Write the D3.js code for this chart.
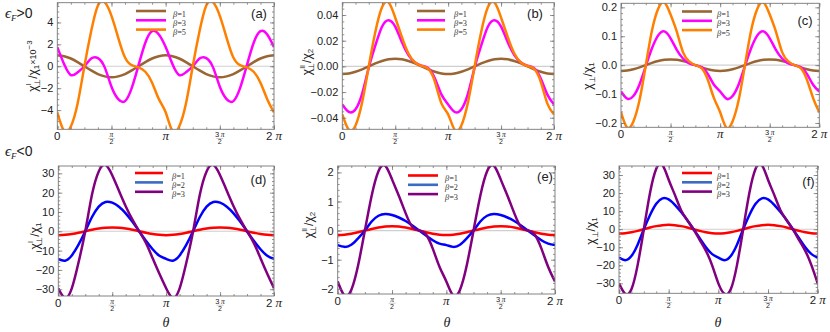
<!DOCTYPE html>
<html><head><meta charset="utf-8">
<script src="https://cdn.jsdelivr.net/npm/d3@7"></script>
<style>body{margin:0;background:#fff}svg{display:block}</style>
</head><body>
<svg id="c" width="830" height="332"></svg>
<script>
// ---------- data (theta in units of pi) ----------
const thetaOverPi = [0,0.0625,0.125,0.1875,0.25,0.3125,0.375,0.4375,0.5,0.5625,0.625,0.6875,0.75,0.8125,0.875,0.9375,1,
  1.0625,1.125,1.1875,1.25,1.3125,1.375,1.4375,1.5,1.5625,1.625,1.6875,1.75,1.8125,1.875,1.9375,2];
const xTicks = [0, 0.5, 1, 1.5, 2];
const xTickLabels = ['0', 'π/2', 'π', '3π/2', '2 π'];

// panel (a)  chi_perp^I / chi_1 x 10^-3, eps_F > 0
const aBeta1 = [1.0,0.92,0.71,0.38,0,-0.38,-0.71,-0.92,-1.0,-0.92,-0.71,-0.38,0,0.38,0.71,0.92,1.0,
  0.92,0.71,0.38,0,-0.38,-0.71,-0.92,-1.0,-0.92,-0.71,-0.38,0,0.38,0.71,0.92,1.0];
const aBeta3 = [1.75,0.2,-0.8,-0.55,0,0.7,0.74,-0.1,-1.87,-3.0,-3.18,-1.97,0.1,2.15,3.2,2.9,1.75,
  0.2,-0.8,-0.55,0,0.7,0.74,-0.1,-1.87,-3.0,-3.18,-1.97,0.1,2.15,3.2,2.9,1.75];
const aBeta5 = [-4.2,-5.9,-5.5,-3.4,0,3.2,5.55,5.85,4.6,2.6,0.8,0.1,-0.1,-0.5,-1.5,-3.0,-4.2,
  -5.9,-5.5,-3.4,0,3.2,5.55,5.85,4.6,2.6,0.8,0.1,-0.1,-0.5,-1.5,-3.0,-4.2];
const aYTicks = [-4,-2,0,2,4];
const aYTickLabels = ['−4','−2','0','2','4'];

// panel (b)  chi_perp^II / chi_2, eps_F > 0
const bBeta1 = [-0.006,-0.0055,-0.0042,-0.0023,0,0.0023,0.0042,0.0055,0.006,0.0055,0.0042,0.0023,0,-0.0023,-0.0042,-0.0055,-0.006,
  -0.0055,-0.0042,-0.0023,0,0.0023,0.0042,0.0055,0.006,0.0055,0.0042,0.0023,0,-0.0023,-0.0042,-0.0055,-0.006];
const bBeta3 = [-0.0296,-0.0355,-0.0334,-0.0212,-0.001,0.0163,0.0309,0.036,0.031,0.019,0.0088,0.003,0.0005,-0.0015,-0.0094,-0.022,-0.0296,
  -0.0355,-0.0334,-0.0212,-0.001,0.0163,0.0309,0.036,0.031,0.019,0.0088,0.003,0.0005,-0.0015,-0.0094,-0.022,-0.0296];
const bBeta5 = [-0.0374,-0.0495,-0.046,-0.028,0,0.027,0.046,0.0498,0.038,0.023,0.010,0.003,0.0003,-0.002,-0.012,-0.029,-0.0374,
  -0.0495,-0.046,-0.028,0,0.027,0.046,0.0498,0.038,0.023,0.010,0.003,0.0003,-0.002,-0.012,-0.029,-0.0374];
const bYTicks = [-0.04,-0.02,0,0.02,0.04];
const bYTickLabels = ['−0.04','−0.02','0.00','0.02','0.04'];

// panel (c)  chi_perp / chi_1, eps_F > 0
const cBeta1 = [-0.02,-0.0185,-0.0141,-0.0077,0,0.0077,0.0141,0.0185,0.02,0.0185,0.0141,0.0077,0,-0.0077,-0.0141,-0.0185,-0.02,
  -0.0185,-0.0141,-0.0077,0,0.0077,0.0141,0.0185,0.02,0.0185,0.0141,0.0077,0,-0.0077,-0.0141,-0.0185,-0.02];
const cBeta3 = [-0.091,-0.116,-0.107,-0.066,-0.003,0.0585,0.103,0.117,0.093,0.053,0.023,0.006,0,-0.007,-0.03,-0.068,-0.091,
  -0.116,-0.107,-0.066,-0.003,0.0585,0.103,0.117,0.093,0.053,0.023,0.006,0,-0.007,-0.03,-0.068,-0.091];
const cBeta5 = [-0.163,-0.216,-0.195,-0.12,0,0.12,0.195,0.217,0.175,0.116,0.045,0.013,0,-0.01,-0.05,-0.114,-0.163,
  -0.216,-0.195,-0.12,0,0.12,0.195,0.217,0.175,0.116,0.045,0.013,0,-0.01,-0.05,-0.114,-0.163];
const cYTicks = [-0.2,-0.1,0,0.1,0.2];
const cYTickLabels = ['−0.2','−0.1','0.0','0.1','0.2'];

// panel (d)  chi_perp^I / chi_1, eps_F < 0
const dBeta1 = [-2.0,-1.85,-1.41,-0.77,0,0.77,1.41,1.85,2.0,1.85,1.41,0.77,0,-0.77,-1.41,-1.85,-2.0,
  -1.85,-1.41,-0.77,0,0.77,1.41,1.85,2.0,1.85,1.41,0.77,0,-0.77,-1.41,-1.85,-2.0];
const dBeta2 = [-14.3,-15.2,-12.5,-6.95,0,7.4,12.8,15.2,14.8,12.7,9.3,4.9,0,-4.9,-9.3,-12.7,-14.3,
  -15.2,-12.5,-6.95,0,7.4,12.8,15.2,14.8,12.7,9.3,4.9,0,-4.9,-9.3,-12.7,-14.3];
const dBeta3 = [-29.5,-34.5,-29.6,-16.2,0,19.0,31.0,34.4,29,21,13,6,0,-6,-14,-22,-29.5,
  -34.5,-29.6,-16.2,0,19.0,31.0,34.4,29,21,13,6,0,-6,-14,-22,-29.5];
const dYTicks = [-30,-20,-10,0,10,20,30];
const dYTickLabels = ['−30','−20','−10','0','10','20','30'];

// panel (e)  chi_perp^II / chi_2, eps_F < 0
const eBeta1 = [-0.15,-0.14,-0.106,-0.057,0,0.057,0.106,0.14,0.15,0.14,0.106,0.057,0,-0.057,-0.106,-0.14,-0.15,
  -0.14,-0.106,-0.057,0,0.057,0.106,0.14,0.15,0.14,0.106,0.057,0,-0.057,-0.106,-0.14,-0.15];
const eBeta2 = [-0.5,-0.56,-0.49,-0.27,0,0.31,0.51,0.57,0.536,0.45,0.33,0.17,0,-0.17,-0.33,-0.45,-0.5,
  -0.56,-0.49,-0.27,0,0.31,0.51,0.57,0.536,0.45,0.33,0.17,0,-0.17,-0.33,-0.45,-0.5];
const eBeta3 = [-1.75,-2.23,-2.04,-1.2,0,1.2,2.04,2.23,1.76,1.2,0.6,0.12,0,-0.13,-0.62,-1.25,-1.75,
  -2.23,-2.04,-1.2,0,1.2,2.04,2.23,1.76,1.2,0.6,0.12,0,-0.13,-0.62,-1.25,-1.75];
const eYTicks = [-2,-1,0,1,2];
const eYTickLabels = ['−2','−1','0','1','2'];

// panel (f)  chi_perp / chi_1, eps_F < 0
const fBeta1 = [-2.4,-2.2,-1.7,-0.92,0,0.92,1.7,2.2,2.4,2.2,1.7,0.92,0,-0.92,-1.7,-2.2,-2.4,
  -2.2,-1.7,-0.92,0,0.92,1.7,2.2,2.4,2.2,1.7,0.92,0,-0.92,-1.7,-2.2,-2.4];
const fBeta2 = [-15.7,-17.2,-14.9,-8.6,0,7.9,14.1,17.1,16.5,13.5,9.5,5,0,-5,-10,-13.8,-15.7,
  -17.2,-14.9,-8.6,0,7.9,14.1,17.1,16.5,13.5,9.5,5,0,-5,-10,-13.8,-15.7];
const fBeta3 = [-30,-35.8,-33.3,-19.9,0,20.2,33.5,35.5,27.4,19,10.5,5,0,-6,-12,-20,-30,
  -35.8,-33.3,-19.9,0,20.2,33.5,35.5,27.4,19,10.5,5,0,-6,-12,-20,-30];
const fYTicks = dYTicks;
const fYTickLabels = dYTickLabels;

const topLegend = ['β=1','β=3','β=5'];
const bottomLegend = ['β=1','β=2','β=3'];
const panelTags = ['(a)','(b)','(c)','(d)','(e)','(f)'];

// ---------- styles ----------
const BROWN='#996633', MAGENTA='#ff00ff', ORANGE='#ff8000', RED='#ff0000', BLUE='#0000ff', PURPLE='#800080';
const SANS='"Liberation Sans", Arial, sans-serif', SERIF='"Liberation Serif", "Times New Roman", serif';
const svg = d3.select('#c');

const panels = [
 {id:'a', box:[57.3,2.7,274,129.3], yDomain:[-5.75,5.8], yTicks:aYTicks, yLabels:aYTickLabels, minor:25,
  series:[{v:aBeta1,c:BROWN},{v:aBeta3,c:MAGENTA},{v:aBeta5,c:ORANGE}], legend:topLegend, legCol:[BROWN,MAGENTA,ORANGE],
  leg:{x0:136,x1:166,ys:[11,20.3,29.6],tx:173}, tag:{x:259,y:13.5}, ylab:{x:33,y:66,kind:'a'}},
 {id:'b', box:[342.3,2.7,554,129.3], yDomain:[-0.049,0.0496], yTicks:bYTicks, yLabels:bYTickLabels, minor:22,
  series:[{v:bBeta1,c:BROWN},{v:bBeta3,c:MAGENTA},{v:bBeta5,c:ORANGE}], legend:topLegend, legCol:[BROWN,MAGENTA,ORANGE],
  leg:{x0:417,x1:445,ys:[11,20.3,29.6],tx:454}, tag:{x:535,y:13.5}, ylab:{x:307,y:62,kind:'b'}},
 {id:'c', box:[621,3.3,819.3,127.3], yDomain:[-0.215,0.214], yTicks:cYTicks, yLabels:cYTickLabels, minor:22,
  series:[{v:cBeta1,c:BROWN},{v:cBeta3,c:MAGENTA},{v:cBeta5,c:ORANGE}], legend:topLegend, legCol:[BROWN,MAGENTA,ORANGE],
  leg:{x0:682,x1:712,ys:[11.5,20.8,30.1],tx:717}, tag:{x:805,y:20}, ylab:{x:588,y:76,kind:'c'}},
 {id:'d', box:[58.3,166,274,296], yDomain:[-33.5,33.8], yTicks:dYTicks, yLabels:dYTickLabels, minor:34,
  series:[{v:dBeta1,c:RED},{v:dBeta2,c:BLUE},{v:dBeta3,c:PURPLE}], legend:bottomLegend, legCol:[RED,'#3b6bc4',PURPLE],
  leg:{x0:135,x1:163,ys:[173,182.4,191.8],tx:172}, tag:{x:258.5,y:179}, ylab:{x:35,y:236,kind:'d'}, theta:166},
 {id:'e', box:[337.7,166,555,294], yDomain:[-2.18,2.22], yTicks:eYTicks, yLabels:eYTickLabels, minor:22,
  series:[{v:eBeta1,c:RED},{v:eBeta2,c:BLUE},{v:eBeta3,c:PURPLE}], legend:bottomLegend, legCol:[RED,'#3b6bc4',PURPLE],
  leg:{x0:408,x1:438,ys:[175.5,184.8,194.1],tx:445}, tag:{x:545,y:176}, ylab:{x:309,y:225,kind:'e'}, theta:447},
 {id:'f', box:[619,166,817.7,293.3], yDomain:[-35.5,35], yTicks:fYTicks, yLabels:fYTickLabels, minor:34,
  series:[{v:fBeta1,c:RED},{v:fBeta2,c:BLUE},{v:fBeta3,c:PURPLE}], legend:bottomLegend, legCol:[RED,'#3b6bc4',PURPLE],
  leg:{x0:682,x1:712,ys:[173,182.3,191.6],tx:717}, tag:{x:808.5,y:181}, ylab:{x:591,y:231,kind:'f'}, theta:718}
];

function styleAxis(sel){
  sel.select('.domain').remove();
  sel.selectAll('.tick line').attr('stroke','#777').attr('stroke-width',0.8);
  sel.selectAll('.tick text').attr('fill','#222').attr('font-family',SANS).attr('font-size',11);
}

function yLabel(g, p){
  const t = g.append('text').attr('transform',`translate(${p.x},${p.y}) rotate(-90)`)
    .attr('text-anchor','middle').attr('dominant-baseline','central')
    .attr('font-family',SANS).attr('font-size',12).attr('fill','#222');
  const k = p.kind;
  t.append('tspan').text('χ');
  if (k==='a' || k==='d' || k==='b' || k==='e'){
    const sup = (k==='a'||k==='d') ? 'I' : 'II';
    t.append('tspan').attr('dy',-5).attr('font-size',7).text(sup);
    t.append('tspan').attr('dx', sup==='I'?-2.5:-5).attr('dy',9).attr('font-size',8).text('⊥');
  } else {
    t.append('tspan').attr('dy',4).attr('font-size',8).text('⊥');
  }
  t.append('tspan').attr('dy',-4).text('/χ');
  t.append('tspan').attr('dy',3).attr('font-size',8).text((k==='b'||k==='e')?'2':'1');
  if (k==='a'){
    t.append('tspan').attr('dy',-3).attr('font-size',9).text('×10');
    t.append('tspan').attr('dy',-4).attr('font-size',8).text('−3');
  }
}

panels.forEach((cfg,pi)=>{
  const [x0,y0,x1,y1] = cfg.box;
  const x = d3.scaleLinear().domain([0,2]).range([x0,x1]);
  const y = d3.scaleLinear().domain(cfg.yDomain).range([y1,y0]);
  const g = svg.append('g');
  const clipId = 'clip-'+cfg.id;
  svg.append('clipPath').attr('id',clipId).append('rect')
    .attr('x',x0).attr('y',y0).attr('width',x1-x0).attr('height',y1-y0);

  // zero reference line
  g.append('line').attr('x1',x0).attr('x2',x1).attr('y1',y(0)).attr('y2',y(0))
    .attr('stroke','#cfcfcf').attr('stroke-width',1.1);

  const line = d3.line().x((d,i)=>x(thetaOverPi[i])).y(d=>y(d)).curve(d3.curveNatural);
  cfg.series.forEach(s=>{
    g.append('path').attr('d',line(s.v)).attr('fill','none').attr('stroke',s.c)
      .attr('stroke-width',2.5).attr('stroke-linejoin','round').attr('clip-path',`url(#${clipId})`);
  });

  // minor ticks
  const minorY = y.ticks(cfg.minor);
  g.append('g').attr('transform',`translate(${x0},0)`)
    .call(d3.axisLeft(y).tickValues(minorY).tickSizeInner(-2).tickSizeOuter(0).tickFormat(''))
    .call(styleAxis);
  g.append('g').attr('transform',`translate(${x1},0)`)
    .call(d3.axisRight(y).tickValues(minorY).tickSizeInner(-2).tickSizeOuter(0).tickFormat(''))
    .call(styleAxis);
  const minorX = d3.range(0,2.0001,0.125);
  g.append('g').attr('transform',`translate(0,${y1})`)
    .call(d3.axisBottom(x).tickValues(minorX).tickSizeInner(-2).tickSizeOuter(0).tickFormat(''))
    .call(styleAxis);
  g.append('g').attr('transform',`translate(0,${y0})`)
    .call(d3.axisTop(x).tickValues(minorX).tickSizeInner(-2).tickSizeOuter(0).tickFormat(''))
    .call(styleAxis);

  // major ticks
  g.append('g').attr('transform',`translate(${x0},0)`)
    .call(d3.axisLeft(y).tickValues(cfg.yTicks).tickSizeInner(-4).tickSizeOuter(0).tickPadding(4)
      .tickFormat((d,i)=>cfg.yLabels[i]))
    .call(styleAxis);
  g.append('g').attr('transform',`translate(${x1},0)`)
    .call(d3.axisRight(y).tickValues(cfg.yTicks).tickSizeInner(-4).tickSizeOuter(0).tickFormat(''))
    .call(styleAxis);
  g.append('g').attr('transform',`translate(0,${y1})`)
    .call(d3.axisBottom(x).tickValues(xTicks).tickSizeInner(-4).tickSizeOuter(0).tickFormat(''))
    .call(styleAxis);
  g.append('g').attr('transform',`translate(0,${y0})`)
    .call(d3.axisTop(x).tickValues(xTicks).tickSizeInner(-4).tickSizeOuter(0).tickFormat(''))
    .call(styleAxis);

  // x tick labels (pi fractions)
  xTicks.forEach((v,i)=>{
    const lab = xTickLabels[i], cx = x(v);
    if (lab.includes('/')){
      const [num,den] = lab.split('/');
      const nt = g.append('text').attr('x',cx).attr('y',y1+7.6).attr('text-anchor','middle')
        .attr('font-size',7.5).attr('fill','#222');
      if (num.length>1) nt.append('tspan').attr('font-family',SANS).text(num.slice(0,-1)+'\u2009');
      nt.append('tspan').attr('font-family',SERIF).attr('font-style','italic').text('π');
      g.append('line').attr('x1',cx-3.5).attr('x2',cx+3.5).attr('y1',y1+9.2).attr('y2',y1+9.2)
        .attr('stroke','#999').attr('stroke-width',0.5);
      g.append('text').attr('x',cx).attr('y',y1+15).attr('text-anchor','middle')
        .attr('font-family',SANS).attr('font-size',7).attr('fill','#222').text(den);
    } else {
      const t = g.append('text').attr('x',cx).attr('y',y1+11).attr('text-anchor','middle')
        .attr('font-size',11.5).attr('fill','#222');
      if (lab==='0') t.attr('font-family',SANS).text('0');
      else {
        if (lab.length>1) t.append('tspan').attr('font-family',SANS).text(lab.slice(0,-1));
        t.append('tspan').attr('font-family',SERIF).attr('font-style','italic').attr('font-size',13).text('π');
      }
    }
  });

  // frame
  g.append('rect').attr('x',x0).attr('y',y0).attr('width',x1-x0).attr('height',y1-y0)
    .attr('fill','none').attr('stroke','#777').attr('stroke-width',0.9);

  // legend
  cfg.legend.forEach((lab,i)=>{
    const ly = cfg.leg.ys[i];
    g.append('line').attr('x1',cfg.leg.x0).attr('x2',cfg.leg.x1).attr('y1',ly).attr('y2',ly)
      .attr('stroke',cfg.legCol[i]).attr('stroke-width',2.6);
    const t = g.append('text').attr('x',cfg.leg.tx).attr('y',ly+2.5).attr('dominant-baseline','central')
      .attr('font-family',SERIF).attr('font-size',8.3).attr('fill','#333');
    t.append('tspan').attr('font-style','italic').text(lab[0]);
    t.append('tspan').text(lab.slice(1));
  });

  // tag
  g.append('text').attr('x',cfg.tag.x).attr('y',cfg.tag.y).attr('text-anchor','middle')
    .attr('dominant-baseline','central').attr('font-family',SANS).attr('font-size',13).attr('fill','#222')
    .text(panelTags[pi]);

  yLabel(g, cfg.ylab);

  if (cfg.theta){
    g.append('text').attr('x',cfg.theta).attr('y',327).attr('text-anchor','middle')
      .attr('font-family',SERIF).attr('font-style','italic').attr('font-size',14).attr('fill','#222').text('θ');
  }
});

// eps_F labels
function epsLabel(yb, sign){
  const t = svg.append('text').attr('x',5).attr('y',yb).attr('font-family',SERIF).attr('font-size',15).attr('fill','#222');
  t.append('tspan').attr('font-style','italic').text('ϵ');
  t.append('tspan').attr('dy',3).attr('font-size',9).attr('font-style','italic').text('F');
  t.append('tspan').attr('dy',-3).attr('font-family',SANS).attr('font-size',14).text(sign+'0');
}
epsLabel(18, '>');
epsLabel(156, '<');
</script>
</body></html>
